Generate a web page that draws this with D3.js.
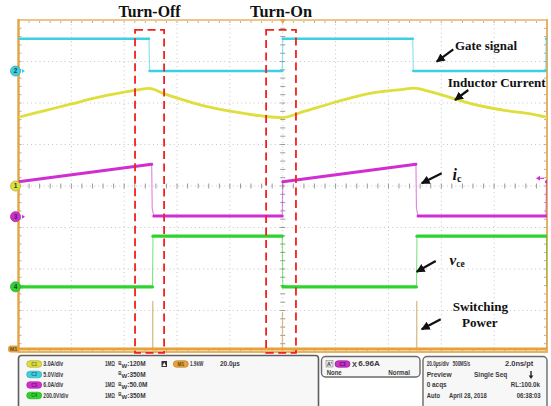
<!DOCTYPE html>
<html>
<head>
<meta charset="utf-8">
<script src="https://cdn.jsdelivr.net/npm/d3@7"></script>
<style>
  html, body { margin: 0; padding: 0; background: #fff; }
  svg { display: block; }
</style>
</head>
<body>
<svg id="scope" width="551" height="406"></svg>
<script>
// ---- acquisition: 20 µs/div, 10 horizontal divisions, trigger at 0 ----
const timeDivs = [-100, -80, -60, -40, -20, 0, 20, 40, 60, 80, 100];
const vertDivs = [-4, -3, -2, -1, 0, 1, 2, 3, 4];

// Ch2: gate signal (V)
const gateTime  = [-100, -50.6, -50.4, -0.2, 0, 49.2, 49.4, 99.5, 99.7, 100];
const gateVolts = [3.9, 3.9, 0, 0, 3.9, 3.9, 0, 0, 3.9, 3.9];

// Ch1: inductor current (A)
const ilTime = [-100, -90, -80, -70, -60, -55, -50.5, -45.3, -37.7, -31.3, -18.8, -8.6, 0,
                7.7, 20.5, 33, 45.5, 49.5, 55.7, 64.4, 70.8, 83.3, 96.2, 100];
const ilAmps = [4.97, 5.45, 5.93, 6.40, 6.78, 6.95, 7.06, 6.70, 6.22, 5.86, 5.37, 5.08, 4.95,
                5.37, 6.09, 6.70, 6.99, 7.08, 6.82, 6.34, 5.98, 5.49, 5.13, 4.97];

// Ch3: collector current i_c (A)
const icTime = [-100, -49.6, -49.4, -48.8, -0.2, 0, 50.4, 50.6, 51.2, 99.6, 99.8, 100];
const icAmps = [5.06, 7.58, 1.2, 0.1, 0.1, 5.06, 7.58, 1.2, 0.1, 0.1, 5.06, 5.1];

// Ch4: collector-emitter voltage v_ce (V)
const vceTime  = [-100, -49.3, -49.1, -0.2, 0, 50.6, 50.8, 99.8, 100];
const vceVolts = [0, 0, 244, 244, 0, 0, 244, 244, 0];

// M1: switching power = v_ce * i_c (kW)
const pwrTime = [-100, -49.3, -49.2, -49.1, -0.2, -0.1, 0, 50.6, 50.7, 50.8, 99.8, 99.9, 100];
const pwrKW   = [0, 0, 2.2, 0, 0, 1.7, 0, 0, 2.2, 0, 0, 1.7, 0];

// channel vertical settings: units per division and ground position (div)
const chNames  = ["C1", "C2", "C3", "C4", "M1"];
const chPerDiv = [3.0, 5.0, 6.0, 200.0, 1.9];
const chPos    = [0, 2.77, -0.74, -2.43, -3.93];
const chColors = ["#dede3c", "#3cd0e0", "#d02ed0", "#2ed42e", "#e6a23a"];

// switching windows (µs) highlighted with dashed boxes
const windowStart = [-55.9, -6.3];
const windowEnd   = [-44.9, 5.0];
const windowLabels = ["Turn-Off", "Turn-On"];
const triggerLevelAmps = 5.55;

// ---- scales ----
const plotLeft = 18.5, plotRight = 547, plotTop = 20, plotBottom = 352;
const x = d3.scaleLinear().domain([-100, 100]).range([plotLeft, plotRight]);
const yDiv = d3.scaleLinear().domain([-4, 4]).range([plotBottom, plotTop]);
const chY = chPerDiv.map((p, i) =>
  d3.scaleLinear().domain([(-4 - chPos[i]) * p, (4 - chPos[i]) * p]).range([plotBottom, plotTop]));

const svg = d3.select("#scope");
const defs = svg.append("defs");
defs.append("marker").attr("id", "ah").attr("viewBox", "0 0 10 10")
  .attr("refX", 9).attr("refY", 5).attr("markerWidth", 4).attr("markerHeight", 4)
  .attr("markerUnits", "strokeWidth").attr("orient", "auto")
  .append("path").attr("d", "M0,0 L10,5 L0,10 Z").attr("fill", "#111");
defs.append("clipPath").attr("id", "plotClip")
  .append("rect").attr("x", plotLeft).attr("y", plotTop - 2)
  .attr("width", plotRight - plotLeft).attr("height", plotBottom - plotTop + 4);

// ---- graticule ----
const grid = svg.append("g");
grid.selectAll(".vg").data(timeDivs.slice(1, -1)).join("line")
  .attr("x1", d => x(d)).attr("x2", d => x(d)).attr("y1", plotTop).attr("y2", plotBottom)
  .attr("stroke", "#c4c4c4").attr("stroke-width", 1).attr("stroke-dasharray", "1,3.2");
grid.selectAll(".hg").data(vertDivs.slice(1, -1)).join("line")
  .attr("y1", d => yDiv(d)).attr("y2", d => yDiv(d)).attr("x1", plotLeft).attr("x2", plotRight)
  .attr("stroke", "#c4c4c4").attr("stroke-width", 1).attr("stroke-dasharray", "1,3.2");

// minor ticks on centre axes and frame edges
const minorT = d3.range(-100, 100.01, 4);
const minorV = d3.range(-4, 4.01, 0.2);
grid.selectAll(".tc").data(minorT).join("line")
  .attr("x1", d => x(d)).attr("x2", d => x(d)).attr("y1", yDiv(0) - 2.5).attr("y2", yDiv(0) + 2.5)
  .attr("stroke", "#9a9a9a").attr("stroke-width", 1);
grid.selectAll(".vc").data(minorV).join("line")
  .attr("y1", d => yDiv(d)).attr("y2", d => yDiv(d)).attr("x1", x(0) - 2.5).attr("x2", x(0) + 2.5)
  .attr("stroke", "#9a9a9a").attr("stroke-width", 1);
grid.selectAll(".tt").data(minorT).join("line")
  .attr("x1", d => x(d)).attr("x2", d => x(d)).attr("y1", plotTop).attr("y2", plotTop + 3)
  .attr("stroke", "#b0b0b0").attr("stroke-width", 1);
grid.selectAll(".tb").data(minorT).join("line")
  .attr("x1", d => x(d)).attr("x2", d => x(d)).attr("y1", plotBottom - 3).attr("y2", plotBottom)
  .attr("stroke", "#b0b0b0").attr("stroke-width", 1);
grid.selectAll(".tl").data(minorV).join("line")
  .attr("y1", d => yDiv(d)).attr("y2", d => yDiv(d)).attr("x1", plotLeft).attr("x2", plotLeft + 3)
  .attr("stroke", "#b0b0b0").attr("stroke-width", 1);
grid.selectAll(".tr").data(minorV).join("line")
  .attr("y1", d => yDiv(d)).attr("y2", d => yDiv(d)).attr("x1", plotRight - 3).attr("x2", plotRight)
  .attr("stroke", "#b0b0b0").attr("stroke-width", 1);

// frame
grid.append("line").attr("x1", plotLeft).attr("x2", plotRight).attr("y1", plotTop).attr("y2", plotTop)
  .attr("stroke", "#eec68a").attr("stroke-width", 2);
grid.append("line").attr("x1", plotLeft).attr("x2", plotLeft).attr("y1", plotTop - 1).attr("y2", plotBottom + 1)
  .attr("stroke", "#e5a648").attr("stroke-width", 2.5);
grid.append("line").attr("x1", plotRight).attr("x2", plotRight).attr("y1", plotTop - 1).attr("y2", plotBottom + 1)
  .attr("stroke", "#e8b060").attr("stroke-width", 2);
grid.append("line").attr("x1", plotLeft).attr("x2", plotRight).attr("y1", plotBottom).attr("y2", plotBottom)
  .attr("stroke", "#e9b25e").attr("stroke-width", 2);

// ---- traces ----
const traces = svg.append("g").attr("clip-path", "url(#plotClip)");

// steep (fast-edge) segments are drawn thin and faint, like a real scope
function drawStepTrace(times, vals, ch, width, edgeColor) {
  const pts = times.map((t, i) => [x(t), chY[ch](vals[i])]);
  let run = [pts[0]];
  const runs = [];
  for (let i = 0; i < pts.length - 1; i++) {
    const [x0, y0] = pts[i], [x1, y1] = pts[i + 1];
    const steep = Math.abs(y1 - y0) > 3 * Math.abs(x1 - x0) + 2;
    if (steep) {
      if (run.length > 1) runs.push(run);
      traces.append("line").attr("x1", x0).attr("y1", y0).attr("x2", x1).attr("y2", y1)
        .attr("stroke", edgeColor || chColors[ch]).attr("stroke-width", 1.1).attr("opacity", 0.6);
      run = [pts[i + 1]];
    } else {
      run.push(pts[i + 1]);
    }
  }
  if (run.length > 1) runs.push(run);
  runs.forEach(r => traces.append("path").attr("d", d3.line()(r))
    .attr("fill", "none").attr("stroke", chColors[ch]).attr("stroke-width", width)
    .attr("stroke-linejoin", "round").attr("stroke-linecap", "round"));
}

drawStepTrace(pwrTime, pwrKW, 4, 3, "#cfae6e");
drawStepTrace(vceTime, vceVolts, 3, 3.2);
drawStepTrace(icTime, icAmps, 2, 3);
drawStepTrace(gateTime, gateVolts, 1, 2.6);

traces.append("path")
  .attr("d", d3.line().curve(d3.curveMonotoneX)
    .x((d, i) => x(ilTime[i])).y(d => chY[0](d))(ilAmps))
  .attr("fill", "none").attr("stroke", chColors[0]).attr("stroke-width", 2.8);

// ---- channel ground markers ----
const markers = svg.append("g");
[1, 0, 2, 3].forEach(ch => {
  const cy = chY[ch](0);
  const g = markers.append("g");
  g.append("circle").attr("cx", 15.5).attr("cy", cy).attr("r", 5)
    .attr("fill", chColors[ch]).attr("stroke", d3.color(chColors[ch]).darker(0.6)).attr("stroke-width", 0.8);
  g.append("text").attr("x", 15.5).attr("y", cy + 2.3).attr("text-anchor", "middle")
    .attr("font-family", "Liberation Sans, Arial, sans-serif").attr("font-size", 6.5).attr("font-weight", "bold")
    .attr("fill", "#334").text(chNames[ch].slice(1));
  if (ch !== 0) {
    g.append("path").attr("d", `M22,${cy - 2} L25,${cy} L22,${cy + 2} Z`).attr("fill", chColors[ch]);
  }
});
{
  const cy = chY[4](0);
  markers.append("rect").attr("x", 8).attr("y", cy - 3.5).attr("width", 11).attr("height", 7).attr("rx", 3)
    .attr("fill", chColors[4]);
  markers.append("text").attr("x", 13.5).attr("y", cy + 2).attr("text-anchor", "middle")
    .attr("font-family", "Liberation Sans, Arial, sans-serif").attr("font-size", 5.5).attr("font-weight", "bold")
    .attr("fill", "#553").text("M1");
}
// trigger position and level
markers.append("path").attr("d", `M${x(0) - 3},${plotTop - 1} L${x(0) + 3},${plotTop - 1} L${x(0)},${plotTop + 4} Z`)
  .attr("fill", "#e5a648");
{
  const ty = chY[2](triggerLevelAmps);
  markers.append("path").attr("d", `M${plotRight - 11},${ty} L${plotRight - 7},${ty - 2.5} L${plotRight - 7},${ty + 2.5} Z`)
    .attr("fill", chColors[2]);
  markers.append("line").attr("x1", plotRight - 7).attr("x2", plotRight - 3).attr("y1", ty).attr("y2", ty)
    .attr("stroke", chColors[2]).attr("stroke-width", 1.2);
}

// ---- switching windows ----
const ann = svg.append("g");
windowStart.forEach((t0, i) => {
  ann.append("rect").attr("x", x(t0)).attr("y", yDiv(3.76))
    .attr("width", x(windowEnd[i]) - x(t0)).attr("height", yDiv(-4.02) - yDiv(3.76))
    .attr("fill", "none").attr("stroke", "#f0221e").attr("stroke-width", 1.8)
    .attr("stroke-dasharray", "8,4.5");
  ann.append("text").attr("x", x((t0 + windowEnd[i]) / 2)).attr("y", 17.3)
    .attr("text-anchor", "middle").attr("font-family", "Liberation Serif, Times New Roman, serif")
    .attr("font-weight", "bold").attr("font-size", 16).attr("fill", "#111")
    .attr("textLength", 62).attr("lengthAdjust", "spacingAndGlyphs").text(windowLabels[i]);
});

// ---- trace annotations ----
const serif = "Liberation Serif, Times New Roman, serif";
const labels = [
  { text: "Gate signal", x: 455, y: 49.5, w: 62 },
  { text: "Inductor Current", x: 447.7, y: 87, w: 98 },
  { text: "Switching", x: 452.7, y: 310.7, w: 55.3 },
  { text: "Power", x: 462, y: 326.7, w: 35.7 }
];
labels.forEach(l => ann.append("text").attr("x", l.x).attr("y", l.y)
  .attr("font-family", serif).attr("font-weight", "bold").attr("font-size", 13).attr("fill", "#111")
  .attr("textLength", l.w).attr("lengthAdjust", "spacingAndGlyphs").text(l.text));

const ic = ann.append("text").attr("x", 452.5).attr("y", 180).attr("font-family", serif)
  .attr("font-weight", "bold").attr("fill", "#111");
ic.append("tspan").attr("font-style", "italic").attr("font-size", 16).text("i");
ic.append("tspan").attr("font-size", 10).attr("dy", 1.8).text("c");

const vce = ann.append("text").attr("x", 449.5).attr("y", 265).attr("font-family", serif)
  .attr("font-weight", "bold").attr("fill", "#111");
vce.append("tspan").attr("font-style", "italic").attr("font-size", 15).text("v");
vce.append("tspan").attr("font-size", 9.5).attr("dy", 1.8).text("ce");

const arrows = [
  [453.3, 49.3, 436.7, 61.7],
  [468.3, 90, 455, 100],
  [441.7, 173.3, 421.7, 183.3],
  [435.7, 261, 416.7, 271.7],
  [440.7, 319.3, 421.7, 329.3]
];
arrows.forEach(a => ann.append("line").attr("x1", a[0]).attr("y1", a[1]).attr("x2", a[2]).attr("y2", a[3])
  .attr("stroke", "#111").attr("stroke-width", 2.2).attr("marker-end", "url(#ah)"));

// ---- status panel ----
const panel = svg.append("g");
const sans = "Liberation Sans, Arial, sans-serif";
panel.append("rect").attr("x", 18.5).attr("y", 355.5).attr("width", 300).attr("height", 56).attr("rx", 3)
  .attr("fill", "#f7f7f7").attr("stroke", "#5e5e5e").attr("stroke-width", 1.6);
panel.append("rect").attr("x", 321.5).attr("y", 356.5).attr("width", 98.5).attr("height", 20.5).attr("rx", 4)
  .attr("fill", "#f7f7f7").attr("stroke", "#6a6a6a").attr("stroke-width", 1.4);
panel.append("rect").attr("x", 423).attr("y", 356.5).attr("width", 124).attr("height", 56).attr("rx", 4)
  .attr("fill", "#f7f7f7").attr("stroke", "#6a6a6a").attr("stroke-width", 1.4);

// status text squeezed horizontally to the given width (the scope font is condensed)
function ptext(t, px, py, w, size) {
  const el = panel.append("text").attr("x", 0).attr("y", 0).attr("font-family", sans)
    .attr("font-weight", "bold").attr("font-size", size || 6.5).attr("fill", "#3a3a3a").text(t);
  let sx = 1;
  if (w) {
    const natural = el.node().getComputedTextLength();
    if (natural > 0) sx = w / natural;
  }
  el.attr("transform", `translate(${px},${py}) scale(${sx},1)`);
  return el;
}
function pill(px, py, ch) {
  panel.append("rect").attr("x", px).attr("y", py - 3.3).attr("width", 15).attr("height", 6.6).attr("rx", 3.3)
    .attr("fill", chColors[ch]).attr("stroke", d3.color(chColors[ch]).darker(0.8)).attr("stroke-width", 0.6);
  panel.append("text").attr("x", px + 7.5).attr("y", py + 1.8).attr("text-anchor", "middle")
    .attr("font-family", sans).attr("font-size", 4.8).attr("font-weight", "bold")
    .attr("fill", d3.color(chColors[ch]).darker(1.6)).text(chNames[ch]);
}
function bw(px, py, val) {
  const t = panel.append("text").attr("x", px).attr("y", py).attr("font-family", sans)
    .attr("font-weight", "bold").attr("font-size", 6.5).attr("fill", "#3a3a3a");
  t.append("tspan").attr("font-size", 4.5).attr("dy", -1.8).text("B");
  t.append("tspan").attr("font-size", 6).attr("dy", 3).text("W");
  t.append("tspan").attr("dy", -1.2).text(":" + val);
}

const rowY = [364, 374.5, 385, 395.5];
const rowCh = [0, 1, 2, 3];
const rowScale = ["3.0A/div", "5.0V/div", "6.0A/div", "200.0V/div"];
const rowScaleW = [20, 20, 20, 25];
const rowImp = ["1MΩ", "", "1MΩ", "1MΩ"];
const rowBW = ["120M", "350M", "50.0M", "350M"];
rowY.forEach((ry, i) => {
  pill(26.7, ry, rowCh[i]);
  ptext(rowScale[i], 43.3, ry + 2.4, rowScaleW[i]);
  if (rowImp[i]) ptext(rowImp[i], 105, ry + 2.4, 10);
  bw(118.3, ry + 2.4, rowBW[i]);
});
// math channel row
panel.append("rect").attr("x", 161.5).attr("y", 361).attr("width", 5.5).attr("height", 6).attr("fill", "#333");
panel.append("path").attr("d", "M162.5,366 L164.25,362.2 L166,366 Z").attr("fill", "#fff");
panel.append("rect").attr("x", 173.3).attr("y", 360.7).attr("width", 15).attr("height", 6.6).attr("rx", 3.3)
  .attr("fill", chColors[4]).attr("stroke", "#b27a20").attr("stroke-width", 0.6);
panel.append("text").attr("x", 180.8).attr("y", 365.8).attr("text-anchor", "middle").attr("font-family", sans)
  .attr("font-size", 4.8).attr("font-weight", "bold").attr("fill", "#6b4a10").text("M1");
ptext("1.9kW", 190, 366.4, 13.3);
ptext("20.0µs", 220, 366.4, 20);

// trigger box
panel.append("rect").attr("x", 326).attr("y", 360.5).attr("width", 7).attr("height", 6.5)
  .attr("fill", "#e4e4e4").attr("stroke", "#777").attr("stroke-width", 0.5);
ptext("A'", 327, 366, null, 5.2);
panel.append("rect").attr("x", 335).attr("y", 360.7).attr("width", 15).attr("height", 6.6).attr("rx", 3.3)
  .attr("fill", chColors[2]).attr("stroke", "#7a1a7a").attr("stroke-width", 0.6);
panel.append("text").attr("x", 342.5).attr("y", 365.8).attr("text-anchor", "middle").attr("font-family", sans)
  .attr("font-size", 4.8).attr("font-weight", "bold").attr("fill", "#5a1060").text("C3");
ptext("X", 352, 366.6, null, 7.5);
ptext("6.96A", 358.3, 366.4, 21.7);
ptext("None", 326.7, 374.8, 15);
ptext("Normal", 388.3, 374.8, 21.7);

// timebase box
ptext("20.0µs/div", 426.7, 366.4, 22.3);
ptext("500MS/s", 452.8, 366.4, 17.5);
ptext("2.0ns/pt", 505, 366.4, 28.3);
ptext("Preview", 426.7, 377, 25);
ptext("Single Seq", 474, 377, 33.3);
panel.append("line").attr("x1", 531).attr("x2", 531).attr("y1", 371).attr("y2", 376)
  .attr("stroke", "#222").attr("stroke-width", 1.4);
panel.append("path").attr("d", "M528.7,375.5 L533.3,375.5 L531,379 Z").attr("fill", "#222");
ptext("0 acqs", 426.7, 387.4, 20);
ptext("RL:100.0k", 510.7, 387.4, 29.3);
ptext("Auto", 426.7, 397.8, 13.3);
ptext("April 28, 2018", 449, 397.8, 37.7);
ptext("06:38:03", 516.7, 397.8, 24);
</script>
</body>
</html>
